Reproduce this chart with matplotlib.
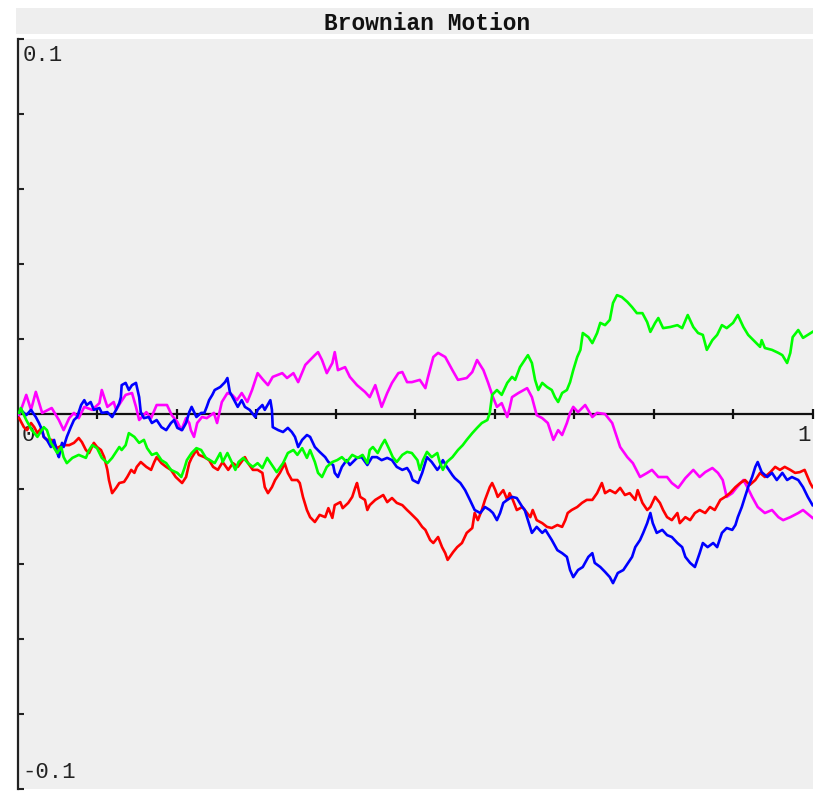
import numpy as np
import matplotlib
matplotlib.use("Agg")
import matplotlib.pyplot as plt
from matplotlib.patches import Rectangle

# four sample paths of standard Brownian motion on [0, 1]
magenta_t = [0.002, 0.011, 0.017, 0.023, 0.031, 0.043, 0.052, 0.058, 0.065, 0.071,
             0.077, 0.084, 0.094, 0.103, 0.106, 0.113, 0.121, 0.124, 0.130, 0.136,
             0.144, 0.149, 0.153, 0.162, 0.168, 0.175, 0.188, 0.194, 0.201, 0.206,
             0.212, 0.216, 0.218, 0.222, 0.226, 0.232, 0.238, 0.247, 0.251, 0.257,
             0.264, 0.270, 0.276, 0.282, 0.289, 0.295, 0.302, 0.309, 0.315, 0.321,
             0.333, 0.339, 0.347, 0.353, 0.362, 0.368, 0.374, 0.378, 0.383, 0.389,
             0.396, 0.399, 0.403, 0.412, 0.418, 0.427, 0.437, 0.443, 0.450, 0.458,
             0.465, 0.471, 0.479, 0.484, 0.490, 0.496, 0.506, 0.513, 0.516, 0.523,
             0.529, 0.538, 0.547, 0.554, 0.565, 0.572, 0.578, 0.586, 0.592, 0.598,
             0.603, 0.609, 0.616, 0.619, 0.622, 0.630, 0.641, 0.647, 0.653, 0.660,
             0.667, 0.674, 0.680, 0.685, 0.691, 0.695, 0.699, 0.705, 0.714, 0.723,
             0.729, 0.739, 0.748, 0.758, 0.767, 0.774, 0.783, 0.792, 0.798, 0.806,
             0.817, 0.823, 0.831, 0.840, 0.850, 0.858, 0.865, 0.874, 0.881, 0.887,
             0.892, 0.899, 0.905, 0.913, 0.918, 0.924, 0.931, 0.940, 0.949, 0.957,
             0.963, 0.972, 0.982, 0.988, 1.000]
magenta_w = [-0.0003, 0.0051, 0.0011, 0.0059, 0.0003, 0.0016, -0.0016, -0.0043, -0.0011, 0.0003,
             -0.0011, 0.0019, 0.0011, 0.0029, 0.0064, 0.0019, 0.0032, 0.0011, 0.0032, 0.0051,
             0.0056, 0.0019, -0.0016, 0.0005, -0.0011, 0.0024, 0.0024, -0.0003, -0.0021, -0.0043,
             -0.0011, -0.0024, -0.0043, -0.0061, -0.0024, -0.0008, -0.0011, 0.0003, -0.0024, 0.0032,
             0.0056, 0.0051, 0.0037, 0.0056, 0.0032, 0.0064, 0.0109, 0.0091, 0.0077, 0.0099,
             0.0109, 0.0096, 0.0109, 0.0085, 0.0131, 0.0144, 0.0157, 0.0165, 0.0144, 0.0109,
             0.0136, 0.0165, 0.0117, 0.0125, 0.0099, 0.0077, 0.0059, 0.0045, 0.0077, 0.0019,
             0.0056, 0.0083, 0.0109, 0.0112, 0.0085, 0.0085, 0.0091, 0.0069, 0.0096, 0.0152,
             0.0163, 0.0152, 0.0117, 0.0091, 0.0096, 0.0112, 0.0144, 0.0117, 0.0083, 0.0045,
             0.0019, 0.0029, -0.0008, 0.0016, 0.0045, 0.0056, 0.0069, 0.0045, -0.0003, -0.0011,
             -0.0024, -0.0069, -0.0043, -0.0056, -0.0024, 0.0003, 0.0019, 0.0005, 0.0024, -0.0008,
             0.0003, 0.0000, -0.0024, -0.0088, -0.0115, -0.0131, -0.0168, -0.0157, -0.0149, -0.0168,
             -0.0168, -0.0184, -0.0197, -0.0171, -0.0149, -0.0168, -0.0155, -0.0144, -0.0157, -0.0176,
             -0.0221, -0.0211, -0.0195, -0.0176, -0.0195, -0.0221, -0.0248, -0.0264, -0.0256, -0.0275,
             -0.0283, -0.0275, -0.0264, -0.0256, -0.0277]

green_t = [0.002, 0.004, 0.011, 0.018, 0.025, 0.033, 0.037, 0.042, 0.050, 0.055,
           0.058, 0.062, 0.069, 0.077, 0.086, 0.090, 0.094, 0.100, 0.106, 0.113,
           0.119, 0.128, 0.131, 0.136, 0.140, 0.147, 0.153, 0.159, 0.163, 0.169,
           0.175, 0.181, 0.187, 0.193, 0.201, 0.206, 0.210, 0.213, 0.219, 0.225,
           0.231, 0.237, 0.242, 0.248, 0.255, 0.258, 0.264, 0.270, 0.274, 0.278,
           0.284, 0.290, 0.296, 0.302, 0.308, 0.314, 0.320, 0.326, 0.334, 0.340,
           0.347, 0.352, 0.358, 0.364, 0.368, 0.374, 0.378, 0.383, 0.389, 0.396,
           0.402, 0.408, 0.414, 0.421, 0.428, 0.434, 0.440, 0.443, 0.447, 0.453,
           0.458, 0.462, 0.468, 0.472, 0.477, 0.484, 0.490, 0.496, 0.503, 0.506,
           0.510, 0.515, 0.521, 0.528, 0.531, 0.535, 0.540, 0.547, 0.554, 0.560,
           0.565, 0.572, 0.578, 0.584, 0.591, 0.594, 0.597, 0.603, 0.609, 0.616,
           0.622, 0.626, 0.632, 0.638, 0.642, 0.647, 0.651, 0.655, 0.660, 0.666,
           0.672, 0.676, 0.680, 0.685, 0.691, 0.695, 0.699, 0.704, 0.708, 0.711,
           0.718, 0.723, 0.729, 0.733, 0.739, 0.745, 0.749, 0.754, 0.760, 0.767,
           0.773, 0.779, 0.786, 0.792, 0.796, 0.802, 0.806, 0.812, 0.821, 0.830,
           0.836, 0.843, 0.850, 0.856, 0.862, 0.867, 0.874, 0.880, 0.886, 0.892,
           0.900, 0.906, 0.913, 0.919, 0.928, 0.934, 0.936, 0.940, 0.949, 0.957,
           0.962, 0.968, 0.972, 0.975, 0.982, 0.988, 1.000]
green_w = [0.0003, 0.0016, -0.0016, -0.0043, -0.0061, -0.0035, -0.0043, -0.0077, -0.0104, -0.0088,
           -0.0115, -0.0131, -0.0117, -0.0109, -0.0117, -0.0096, -0.0083, -0.0091, -0.0117, -0.0131,
           -0.0117, -0.0088, -0.0096, -0.0083, -0.0051, -0.0061, -0.0077, -0.0069, -0.0091, -0.0109,
           -0.0104, -0.0123, -0.0131, -0.0149, -0.0157, -0.0168, -0.0144, -0.0123, -0.0104, -0.0091,
           -0.0096, -0.0117, -0.0123, -0.0131, -0.0104, -0.0128, -0.0104, -0.0131, -0.0149, -0.0128,
           -0.0117, -0.0131, -0.0141, -0.0131, -0.0144, -0.0117, -0.0136, -0.0155, -0.0131, -0.0104,
           -0.0096, -0.0109, -0.0091, -0.0117, -0.0096, -0.0128, -0.0157, -0.0168, -0.0141, -0.0128,
           -0.0123, -0.0115, -0.0128, -0.0109, -0.0117, -0.0109, -0.0131, -0.0096, -0.0088, -0.0104,
           -0.0083, -0.0069, -0.0096, -0.0115, -0.0128, -0.0109, -0.0101, -0.0104, -0.0123, -0.0149,
           -0.0123, -0.0101, -0.0115, -0.0104, -0.0128, -0.0149, -0.0128, -0.0115, -0.0096, -0.0083,
           -0.0069, -0.0051, -0.0037, -0.0024, -0.0016, 0.0003, 0.0051, 0.0064, 0.0051, 0.0083,
           0.0099, 0.0091, 0.0125, 0.0144, 0.0157, 0.0136, 0.0091, 0.0064, 0.0083, 0.0072,
           0.0064, 0.0045, 0.0032, 0.0056, 0.0064, 0.0085, 0.0117, 0.0152, 0.0171, 0.0216,
           0.0205, 0.0189, 0.0216, 0.0243, 0.0237, 0.0251, 0.0296, 0.0317, 0.0312, 0.0299,
           0.0285, 0.0269, 0.0269, 0.0245, 0.0219, 0.0243, 0.0256, 0.0229, 0.0232, 0.0237,
           0.0229, 0.0264, 0.0232, 0.0216, 0.0211, 0.0171, 0.0197, 0.0211, 0.0237, 0.0229,
           0.0243, 0.0264, 0.0232, 0.0211, 0.0192, 0.0179, 0.0197, 0.0176, 0.0171, 0.0163,
           0.0157, 0.0136, 0.0163, 0.0205, 0.0224, 0.0203, 0.0219]

blue_t = [0.002, 0.004, 0.011, 0.017, 0.023, 0.027, 0.031, 0.033, 0.037, 0.042,
          0.046, 0.050, 0.052, 0.056, 0.058, 0.062, 0.067, 0.071, 0.075, 0.080,
          0.084, 0.087, 0.092, 0.096, 0.103, 0.106, 0.113, 0.119, 0.124, 0.128,
          0.130, 0.131, 0.136, 0.140, 0.144, 0.149, 0.153, 0.155, 0.159, 0.165,
          0.169, 0.175, 0.181, 0.187, 0.193, 0.197, 0.201, 0.207, 0.212, 0.216,
          0.219, 0.225, 0.231, 0.235, 0.238, 0.241, 0.245, 0.248, 0.255, 0.261,
          0.264, 0.267, 0.271, 0.277, 0.282, 0.286, 0.292, 0.299, 0.302, 0.308,
          0.311, 0.318, 0.320, 0.321, 0.328, 0.334, 0.340, 0.345, 0.349, 0.353,
          0.358, 0.364, 0.368, 0.374, 0.380, 0.387, 0.391, 0.397, 0.399, 0.403,
          0.408, 0.414, 0.418, 0.427, 0.433, 0.440, 0.446, 0.452, 0.458, 0.465,
          0.471, 0.477, 0.484, 0.490, 0.494, 0.497, 0.504, 0.509, 0.515, 0.521,
          0.528, 0.531, 0.535, 0.540, 0.547, 0.550, 0.557, 0.563, 0.569, 0.575,
          0.582, 0.588, 0.594, 0.598, 0.603, 0.607, 0.611, 0.616, 0.622, 0.628,
          0.635, 0.638, 0.642, 0.647, 0.653, 0.660, 0.664, 0.672, 0.679, 0.685,
          0.691, 0.695, 0.699, 0.705, 0.711, 0.718, 0.723, 0.726, 0.733, 0.739,
          0.745, 0.749, 0.755, 0.762, 0.768, 0.773, 0.777, 0.783, 0.787, 0.792,
          0.796, 0.799, 0.804, 0.811, 0.817, 0.823, 0.830, 0.836, 0.840, 0.846,
          0.852, 0.858, 0.862, 0.868, 0.875, 0.880, 0.886, 0.892, 0.899, 0.903,
          0.906, 0.911, 0.915, 0.919, 0.924, 0.928, 0.931, 0.936, 0.943, 0.949,
          0.955, 0.962, 0.968, 0.974, 0.982, 0.988, 0.994, 1.000]
blue_w = [0.0003, 0.0011, -0.0003, 0.0011, -0.0008, -0.0024, -0.0043, -0.0061, -0.0069, -0.0088,
          -0.0069, -0.0104, -0.0115, -0.0077, -0.0088, -0.0061, -0.0035, -0.0016, -0.0008, 0.0024,
          0.0037, 0.0024, 0.0032, 0.0011, 0.0016, 0.0003, 0.0005, -0.0008, 0.0011, 0.0029,
          0.0045, 0.0077, 0.0083, 0.0064, 0.0077, 0.0083, 0.0045, 0.0005, -0.0011, -0.0008,
          -0.0024, -0.0016, -0.0035, -0.0043, -0.0024, -0.0016, -0.0037, -0.0043, -0.0024, 0.0005,
          0.0019, -0.0008, 0.0003, 0.0003, 0.0019, 0.0037, 0.0051, 0.0064, 0.0072, 0.0085,
          0.0096, 0.0059, 0.0043, 0.0019, 0.0037, 0.0019, 0.0011, -0.0008, 0.0011, 0.0024,
          0.0011, 0.0037, 0.0011, -0.0035, -0.0043, -0.0048, -0.0037, -0.0048, -0.0061, -0.0088,
          -0.0069, -0.0056, -0.0061, -0.0088, -0.0101, -0.0115, -0.0128, -0.0136, -0.0157, -0.0168,
          -0.0141, -0.0123, -0.0136, -0.0117, -0.0115, -0.0136, -0.0115, -0.0115, -0.0123, -0.0117,
          -0.0123, -0.0141, -0.0149, -0.0144, -0.0157, -0.0176, -0.0184, -0.0157, -0.0115, -0.0128,
          -0.0149, -0.0141, -0.0123, -0.0141, -0.0163, -0.0171, -0.0184, -0.0203, -0.0229, -0.0256,
          -0.0264, -0.0248, -0.0256, -0.0264, -0.0283, -0.0264, -0.0237, -0.0229, -0.0221, -0.0224,
          -0.0248, -0.0256, -0.0283, -0.0317, -0.0301, -0.0317, -0.0309, -0.0336, -0.0363, -0.0371,
          -0.0381, -0.0416, -0.0435, -0.0416, -0.0408, -0.0381, -0.0371, -0.0397, -0.0408, -0.0421,
          -0.0435, -0.0451, -0.0424, -0.0416, -0.0397, -0.0381, -0.0355, -0.0336, -0.0317, -0.0291,
          -0.0264, -0.0291, -0.0317, -0.0309, -0.0323, -0.0328, -0.0344, -0.0355, -0.0381, -0.0397,
          -0.0408, -0.0371, -0.0344, -0.0355, -0.0344, -0.0355, -0.0317, -0.0304, -0.0309, -0.0296,
          -0.0275, -0.0248, -0.0221, -0.0195, -0.0168, -0.0141, -0.0128, -0.0155, -0.0168, -0.0157,
          -0.0176, -0.0157, -0.0176, -0.0168, -0.0176, -0.0195, -0.0221, -0.0243]

red_t = [0.002, 0.008, 0.012, 0.017, 0.021, 0.025, 0.030, 0.033, 0.037, 0.043,
         0.050, 0.056, 0.065, 0.071, 0.077, 0.081, 0.086, 0.090, 0.096, 0.100,
         0.105, 0.109, 0.113, 0.115, 0.119, 0.124, 0.128, 0.134, 0.138, 0.143,
         0.147, 0.150, 0.155, 0.162, 0.168, 0.172, 0.175, 0.181, 0.187, 0.193,
         0.199, 0.203, 0.207, 0.212, 0.216, 0.219, 0.225, 0.228, 0.235, 0.241,
         0.246, 0.252, 0.258, 0.265, 0.271, 0.277, 0.286, 0.290, 0.296, 0.302,
         0.308, 0.311, 0.315, 0.320, 0.324, 0.330, 0.334, 0.336, 0.340, 0.345,
         0.352, 0.355, 0.359, 0.364, 0.368, 0.374, 0.380, 0.387, 0.391, 0.396,
         0.399, 0.406, 0.409, 0.416, 0.421, 0.425, 0.427, 0.431, 0.437, 0.440,
         0.443, 0.450, 0.456, 0.460, 0.465, 0.471, 0.477, 0.484, 0.490, 0.494,
         0.503, 0.509, 0.513, 0.519, 0.523, 0.529, 0.534, 0.538, 0.541, 0.548,
         0.553, 0.559, 0.565, 0.572, 0.575, 0.579, 0.584, 0.588, 0.594, 0.597,
         0.601, 0.604, 0.611, 0.616, 0.619, 0.623, 0.628, 0.635, 0.641, 0.645,
         0.648, 0.653, 0.660, 0.666, 0.672, 0.679, 0.685, 0.689, 0.692, 0.697,
         0.704, 0.710, 0.716, 0.723, 0.729, 0.735, 0.739, 0.745, 0.752, 0.758,
         0.764, 0.770, 0.777, 0.780, 0.786, 0.792, 0.796, 0.802, 0.808, 0.812,
         0.817, 0.823, 0.830, 0.833, 0.840, 0.846, 0.852, 0.858, 0.865, 0.871,
         0.877, 0.884, 0.890, 0.896, 0.903, 0.909, 0.915, 0.921, 0.928, 0.934,
         0.940, 0.947, 0.953, 0.959, 0.965, 0.972, 0.978, 0.984, 0.990, 0.997,
         1.000]
red_w = [-0.0011, -0.0035, -0.0043, -0.0024, -0.0035, -0.0051, -0.0037, -0.0061, -0.0069, -0.0069,
         -0.0091, -0.0083, -0.0083, -0.0077, -0.0064, -0.0075, -0.0096, -0.0104, -0.0077, -0.0088,
         -0.0096, -0.0115, -0.0149, -0.0176, -0.0211, -0.0197, -0.0184, -0.0181, -0.0168, -0.0149,
         -0.0157, -0.0141, -0.0128, -0.0141, -0.0149, -0.0128, -0.0115, -0.0131, -0.0141, -0.0149,
         -0.0168, -0.0176, -0.0184, -0.0168, -0.0131, -0.0117, -0.0096, -0.0109, -0.0115, -0.0123,
         -0.0141, -0.0149, -0.0128, -0.0149, -0.0131, -0.0141, -0.0115, -0.0131, -0.0149, -0.0149,
         -0.0157, -0.0195, -0.0211, -0.0195, -0.0176, -0.0157, -0.0141, -0.0131, -0.0157, -0.0176,
         -0.0176, -0.0184, -0.0221, -0.0256, -0.0275, -0.0288, -0.0269, -0.0275, -0.0251, -0.0277,
         -0.0243, -0.0235, -0.0251, -0.0237, -0.0221, -0.0195, -0.0184, -0.0221, -0.0229, -0.0256,
         -0.0243, -0.0229, -0.0221, -0.0216, -0.0235, -0.0224, -0.0237, -0.0243, -0.0256, -0.0264,
         -0.0283, -0.0301, -0.0309, -0.0336, -0.0344, -0.0328, -0.0355, -0.0371, -0.0389, -0.0368,
         -0.0355, -0.0344, -0.0317, -0.0304, -0.0264, -0.0283, -0.0256, -0.0229, -0.0195, -0.0184,
         -0.0203, -0.0221, -0.0203, -0.0229, -0.0211, -0.0229, -0.0256, -0.0248, -0.0264, -0.0275,
         -0.0256, -0.0283, -0.0291, -0.0301, -0.0304, -0.0296, -0.0301, -0.0283, -0.0264, -0.0256,
         -0.0248, -0.0237, -0.0229, -0.0229, -0.0211, -0.0184, -0.0211, -0.0203, -0.0211, -0.0197,
         -0.0216, -0.0211, -0.0229, -0.0203, -0.0237, -0.0256, -0.0248, -0.0221, -0.0237, -0.0256,
         -0.0275, -0.0283, -0.0264, -0.0291, -0.0275, -0.0283, -0.0264, -0.0256, -0.0264, -0.0248,
         -0.0256, -0.0229, -0.0221, -0.0211, -0.0195, -0.0184, -0.0176, -0.0189, -0.0176, -0.0157,
         -0.0168, -0.0155, -0.0141, -0.0149, -0.0141, -0.0149, -0.0157, -0.0155, -0.0149, -0.0184,
         -0.0195]

paths = [
    (magenta_t, magenta_w, "#ff00ff"),
    (red_t, red_w, "#ff0000"),
    (blue_t, blue_w, "#0000ff"),
    (green_t, green_w, "#00ff00"),
]

MONO = "Liberation Mono"

fig = plt.figure(figsize=(8.15, 7.91), dpi=100)
fig.patch.set_facecolor("white")

# grey title strip above the plot
fig.patches.append(Rectangle((0.0196, 0.957), 0.978, 0.0329, transform=fig.transFigure,
                             facecolor="#eeeeee", edgecolor="none", zorder=0))
fig.text(0.524, 0.9697, "Brownian Motion", ha="center", va="center",
         family=MONO, weight="bold", fontsize=16.5, color="#111111")

ax = fig.add_axes([0.0215, 0.0025, 0.9755, 0.9482])
ax.set_facecolor("#efefef")
ax.set_xlim(0, 1)
ax.set_ylim(-0.1, 0.1)

for side in ("top", "right", "bottom"):
    ax.spines[side].set_visible(False)
ax.spines["left"].set_color("#222222")
ax.spines["left"].set_linewidth(1.6)

ax.set_xticks([])
ax.set_yticks(np.linspace(-0.1, 0.1, 11))
ax.set_yticklabels([])
ax.tick_params(axis="y", direction="in", length=4, width=1.5, color="#222222")

# time axis through zero with crossing ticks
ax.axhline(0, color="#111111", lw=1.6, zorder=2)
xt = np.linspace(0.1, 1.0, 10)
ax.plot(xt, np.zeros_like(xt), linestyle="none", marker="|", markersize=7,
        mew=1.6, color="#111111", zorder=2, clip_on=False)

ax.text(0.0065, 0.0985, "0.1", ha="left", va="top", family=MONO, fontsize=16, color="#222222")
ax.text(0.0065, -0.0985, "-0.1", ha="left", va="bottom", family=MONO, fontsize=16, color="#222222")
ax.text(0.0055, -0.0028, "0", ha="left", va="top", family=MONO, fontsize=16, color="#222222", zorder=1)
ax.text(0.9975, -0.0028, "1", ha="right", va="top", family=MONO, fontsize=16, color="#222222", zorder=1)

for t, w, c in paths:
    ax.plot(t, w, color=c, lw=1.9, zorder=3)

fig.savefig("out.png", dpi=100)
